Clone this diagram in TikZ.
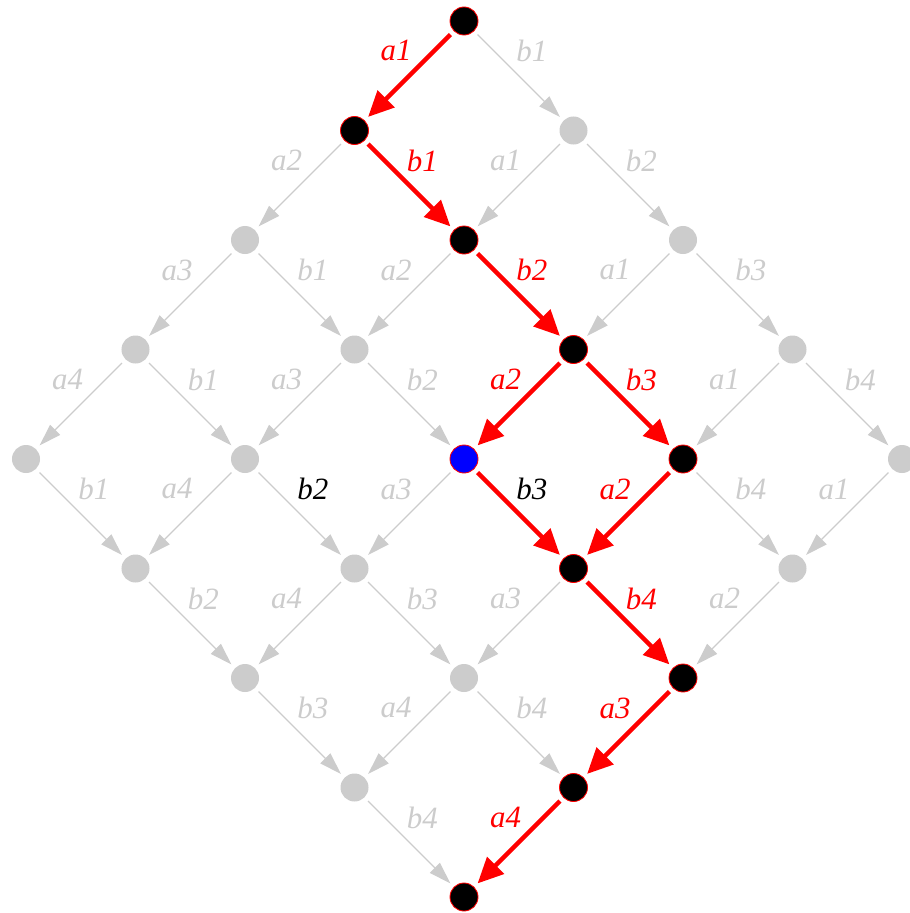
\documentclass[tikz,border=0pt]{standalone}
\usepackage{fontspec}
\setmainfont{Liberation Serif}
\usepackage{tikz}
\usetikzlibrary{arrows.meta}
\definecolor{pale}{RGB}{204,204,204}
\definecolor{hot}{RGB}{255,0,0}
\definecolor{sel}{RGB}{0,0,255}

\begin{document}
\begin{tikzpicture}[x=0.025cm,y=-0.025cm,font=\fontsize{22}{26}\selectfont\itshape]
\tikzset{dot/.style={circle,fill=pale,minimum size=0.7cm,inner sep=0pt,outer sep=0.13cm},
  hotdot/.style={dot,fill=black,draw=hot,line width=0.6pt},
  seldot/.style={hotdot,fill=sel},
  dimedge/.style={draw=pale,line width=0.9pt,-{Triangle[length=0.55cm,width=0.35cm]}},
  litedge/.style={draw=hot,line width=3.2pt,-{Triangle[length=0.64cm,width=0.58cm]}},
  la/.style={midway,text=pale,xshift=-0.33cm,yshift=0.62cm},
  lb/.style={midway,text=pale,xshift=0.33cm,yshift=0.62cm}}
% the chosen path
\tikzset{hot00/.style=hotdot,hot10/.style=hotdot,hot11/.style=hotdot,hot12/.style=hotdot,
  hot13/.style=hotdot,hot23/.style=hotdot,hot24/.style=hotdot,hot34/.style=hotdot,
  hot44/.style=hotdot,hot22/.style=seldot,
  ea00/.style=litedge,eb10/.style=litedge,eb11/.style=litedge,ea12/.style=litedge,
  eb12/.style=litedge,ea13/.style=litedge,eb22/.style=litedge,eb23/.style=litedge,
  ea24/.style=litedge,ea34/.style=litedge,
  ta00/.style={text=hot},tb10/.style={text=hot},tb11/.style={text=hot},ta12/.style={text=hot},
  tb12/.style={text=hot},ta13/.style={text=hot},tb23/.style={text=hot},ta24/.style={text=hot},
  ta34/.style={text=hot},tb22/.style={text=black},tb31/.style={text=black}}
\useasboundingbox (0,0) rectangle (909,913);

% lattice points
\foreach \i in {0,...,4}
  \foreach \j in {0,...,4}
    \node[dot,hot\i\j/.try] (n\i\j) at ({464+109.5*(\j-\i)},{21+109.5*(\i+\j)}) {};

% steps a (down left) and b (down right)
\foreach \i in {0,...,4}
  \foreach \j in {0,...,4} {
    \pgfmathtruncatemacro\k{\i+1}
    \pgfmathtruncatemacro\m{\j+1}
    \ifnum\i<4 \draw[dimedge,ea\i\j/.try] (n\i\j) -- node[la,ta\i\j/.try] {a\k} (n\k\j); \fi
    \ifnum\j<4 \draw[dimedge,eb\i\j/.try] (n\i\j) -- node[lb,tb\i\j/.try] {b\m} (n\i\m); \fi
  }
\end{tikzpicture}
\end{document}
